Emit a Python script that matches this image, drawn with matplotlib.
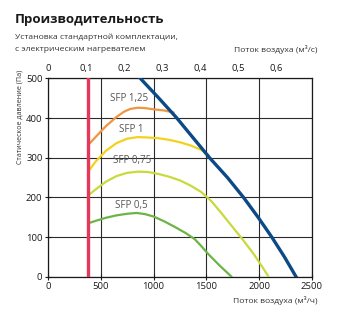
import numpy as np
import matplotlib
matplotlib.use('Agg')
import matplotlib.pyplot as plt
from matplotlib.ticker import FuncFormatter

plt.rcParams['font.family'] = ['Open Sans', 'DejaVu Sans']

# Fan curve (m3/h, Pa)
max_flow = [874, 1050, 1220, 1530, 1700, 1852, 1990, 2120, 2240, 2350]
max_pres = [500, 450, 400, 300, 250, 200, 150, 100, 50, 0]

# SFP iso-lines (m3/h, Pa)
sfp125_flow = [380, 450, 550, 650, 720, 780, 850, 920, 1000, 1100, 1190]
sfp125_pres = [332, 352, 380, 403, 416, 423, 426, 425, 422, 419, 414]

sfp1_flow = [380, 450, 550, 650, 750, 850, 950, 1050, 1150, 1250, 1350, 1450, 1520]
sfp1_pres = [265, 290, 318, 337, 348, 352, 351, 349, 345, 339, 331, 320, 306]

sfp075_flow = [380, 450, 550, 650, 750, 850, 950, 1050, 1150, 1250, 1350, 1450,
               1550, 1650, 1750, 1850, 1950, 2030, 2090]
sfp075_pres = [205, 220, 240, 254, 262, 265, 264, 259, 252, 243, 230, 214,
               190, 158, 125, 92, 57, 25, 0]

sfp05_flow = [380, 450, 550, 650, 750, 840, 920, 1000, 1100, 1200, 1300, 1390,
              1450, 1520, 1620, 1740]
sfp05_pres = [135, 141, 149, 155, 159, 161, 158, 152, 140, 126, 111, 95,
              78, 57, 30, 0]

min_flow = 380

sfp_labels = ['SFP 1,25', 'SFP 1', 'SFP 0,75', 'SFP 0,5']
label_pos = [(770, 448), (793, 371), (793, 292), (793, 181)]

fig = plt.figure(figsize=(3.38, 3.25), dpi=100)
ax = fig.add_axes([0.142, 0.148, 0.781, 0.611])

grid_c = '#2b2b2b'
ax.set_xlim(0, 2500)
ax.set_ylim(0, 500)
ax.set_xticks(np.arange(0, 2501, 500))
ax.set_yticks(np.arange(0, 501, 100))
ax.grid(True, color=grid_c, linewidth=0.8)
ax.set_axisbelow(True)
for s in ax.spines.values():
    s.set_color('#1a1a1a')
    s.set_linewidth(0.9)
ax.tick_params(direction='inout', length=4, width=0.8, labelsize=6.8,
               colors='#1a1a1a', pad=2)

kw = dict(linewidth=1.6, zorder=3, solid_joinstyle='round', solid_capstyle='round')
ax.axvline(min_flow, color='#e5395c', linewidth=2.4, zorder=4)
ax.plot(sfp125_flow, sfp125_pres, color='#ef9640', **kw)
ax.plot(sfp1_flow, sfp1_pres, color='#f4d11f', **kw)
ax.plot(sfp075_flow, sfp075_pres, color='#c9da3c', **kw)
ax.plot(sfp05_flow, sfp05_pres, color='#6cb446', **kw)
ax.plot(max_flow, max_pres, color='#0b4a87', linewidth=2.4, zorder=5,
        solid_joinstyle='round')

for txt, (x, y) in zip(sfp_labels, label_pos):
    ax.text(x, y, txt, fontsize=7, color='#555555', ha='center', va='center',
            zorder=6)

# m3/s scale on top
top = ax.secondary_xaxis('top', functions=(lambda v: v / 3600, lambda v: v * 3600))
top.set_xticks(np.arange(0, 0.61, 0.1))
top.xaxis.set_major_formatter(FuncFormatter(
    lambda v, p: '0' if abs(v) < 1e-9 else f'{v:.1f}'.replace('.', ',')))
top.tick_params(length=0, labelsize=6.8, colors='#1a1a1a', pad=4)
top.spines['top'].set_visible(False)

fig.text(0.044, 0.94, 'Производительность', fontsize=9.5, fontweight='bold',
         color='#1a1a1a', va='center')
fig.text(0.044, 0.885, 'Установка стандартной комплектации,', fontsize=6.1,
         color='#333333', va='center')
fig.text(0.044, 0.848, 'с электрическим нагревателем', fontsize=6.1,
         color='#333333', va='center')
fig.text(0.938, 0.848, 'Поток воздуха (м³/с)', fontsize=6.1,
         color='#333333', va='center', ha='right')
fig.text(0.938, 0.074, 'Поток воздуха (м³/ч)', fontsize=6.1,
         color='#333333', va='center', ha='right')
fig.text(0.06, 0.785, 'Статическое давление (Па)', fontsize=5.1,
         color='#333333', va='top', ha='center', rotation=90)

fig.savefig('out.png', dpi=100, facecolor='white')
